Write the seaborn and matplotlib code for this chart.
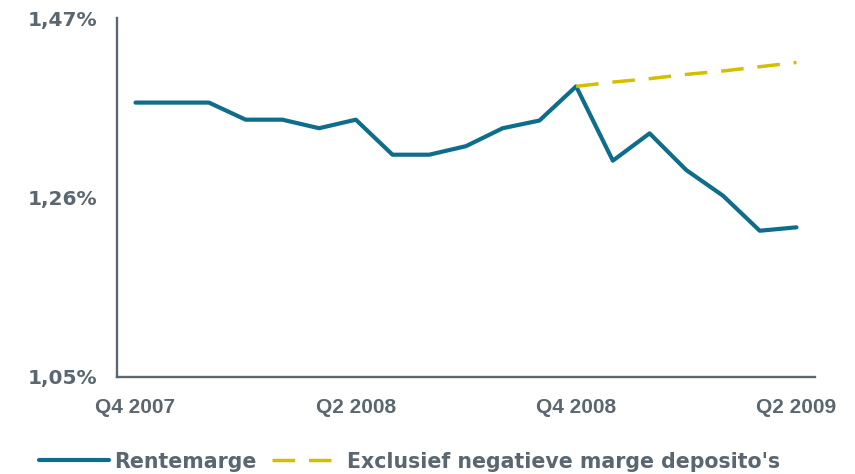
import numpy as np
import pandas as pd
import matplotlib
matplotlib.use('Agg')
import matplotlib.pyplot as plt
import seaborn as sns

# maandelijkse rentemarge, Q4 2007 t/m Q2 2009 (in %)
maand = list(range(19))
rentemarge = [1.371, 1.371, 1.371, 1.351, 1.351, 1.341, 1.351, 1.310, 1.310,
              1.320, 1.341, 1.350, 1.390, 1.303, 1.335, 1.292, 1.262, 1.221,
              1.225]
excl_maand = list(range(12, 19))
excl_negatief = [1.390, 1.395, 1.399, 1.404, 1.408, 1.413, 1.418]

tick_pos = [0, 6, 12, 18]
tick_labels = ['Q4 2007', 'Q2 2008', 'Q4 2008', 'Q2 2009']
y_ticks = [1.05, 1.26, 1.47]

BLAUW = '#0F6D8C'
GEEL = '#D4BE00'
GRIJS = '#5B6770'

sns.set_style('white')
plt.rcParams['font.family'] = ['DejaVu Sans']

df1 = pd.DataFrame({'maand': maand, 'waarde': rentemarge})
df2 = pd.DataFrame({'maand': excl_maand, 'waarde': excl_negatief})

fig = plt.figure(figsize=(8.55, 4.74), dpi=100)
ax = fig.add_axes([0.137, 0.205, 0.816, 0.757])

sns.lineplot(data=df2, x='maand', y='waarde', ax=ax, color=GEEL, lw=2.5,
             label="Exclusief negatieve marge deposito's")
ax.lines[-1].set_dashes((6.5, 4))
sns.lineplot(data=df1, x='maand', y='waarde', ax=ax, color=BLAUW, lw=3,
             label='Rentemarge', zorder=1)

ax.set_xlim(-0.5, 18.5)
ax.set_ylim(1.05, 1.47)
ax.set_xticks(tick_pos)
ax.set_xticklabels(tick_labels, fontfamily='Liberation Sans',
                   fontweight='bold', fontsize=15, color=GRIJS)
ax.set_yticks(y_ticks)
ax.set_yticklabels([f'{v:.2f}%'.replace('.', ',') for v in y_ticks],
                   fontweight='bold', fontsize=14.5, color=GRIJS)
ax.tick_params(axis='x', length=0, pad=15)
ax.tick_params(axis='y', length=0, pad=14)
ax.set_xlabel('')
ax.set_ylabel('')

for s in ['top', 'right']:
    ax.spines[s].set_visible(False)
for s in ['left', 'bottom']:
    ax.spines[s].set_color(GRIJS)
    ax.spines[s].set_linewidth(1.7)

handles, labels = ax.get_legend_handles_labels()
ax.get_legend().remove()
order = [1, 0]
leg = fig.legend([handles[i] for i in order], [labels[i] for i in order],
                 loc='center left', bbox_to_anchor=(0.046, 0.026), ncol=2,
                 frameon=False, borderpad=0, borderaxespad=0,
                 handlelength=3.4, handletextpad=0.25, columnspacing=0.75,
                 prop={'weight': 'bold', 'size': 14.8})
for t in leg.get_texts():
    t.set_color(GRIJS)

plt.savefig('out.png', dpi=100)
plt.close()
